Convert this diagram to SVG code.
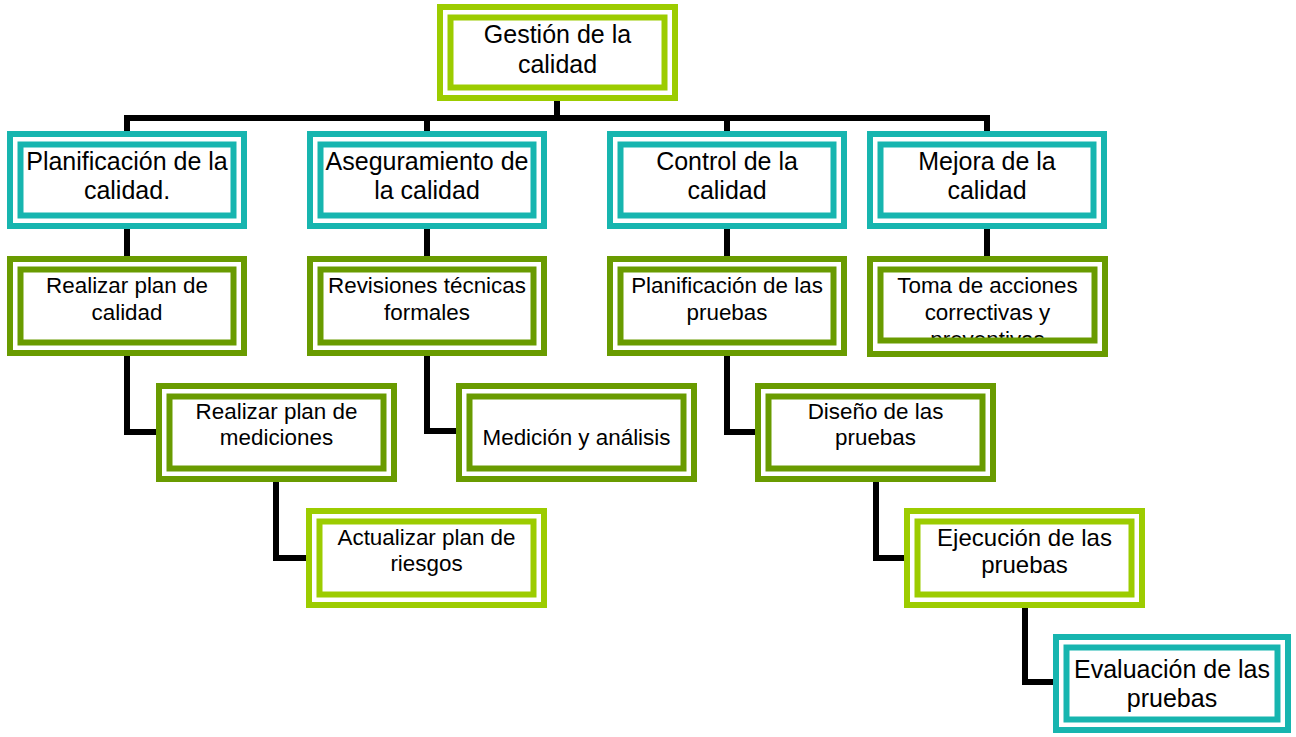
<svg xmlns="http://www.w3.org/2000/svg" width="1296" height="737" viewBox="0 0 1296 737">
<style>
.o{fill:#fff;stroke-width:6}
.i{fill:none;stroke-width:6}
.lg{stroke:#9CCC00}
.tl{stroke:#17B5AF}
.dg{stroke:#699B00}
.c{fill:none;stroke:#000;stroke-width:6;stroke-linejoin:miter}
text{font-family:"Liberation Sans",Arial,sans-serif;fill:#000;text-anchor:middle}
.b{font-size:25px}
.s{font-size:22.4px}
</style>
<defs>
<clipPath id="clipToma"><rect x="867" y="256" width="241" height="83"/></clipPath>
</defs>
<g id="connectors">
<path class="c" d="M557,101 V118"/>
<path class="c" d="M127,131 V118 H987 V131"/>
<path class="c" d="M427,118 V131"/>
<path class="c" d="M727,118 V131"/>
<path class="c" d="M127,229 V256"/>
<path class="c" d="M427,229 V256"/>
<path class="c" d="M727,229 V256"/>
<path class="c" d="M987,229 V256"/>
<path class="c" d="M127,356 V432 H156"/>
<path class="c" d="M427,356 V431 H456"/>
<path class="c" d="M727,356 V432 H755"/>
<path class="c" d="M276,482 V558 H306"/>
<path class="c" d="M876,482 V558 H904"/>
<path class="c" d="M1025,608 V682 H1053"/>
</g>
<g id="n-gestion">
<rect class="o lg" x="440" y="7" width="235" height="91"/>
<rect class="i lg" x="450.5" y="17.5" width="214" height="70"/>
<text class="b" x="557.5" y="43">Gestión de la</text>
<text class="b" x="557.5" y="73">calidad</text>
</g>
<g id="n-planificacion">
<rect class="o tl" x="10" y="134" width="234" height="92"/>
<rect class="i tl" x="20.5" y="144.5" width="213" height="71"/>
<text class="b" x="127" y="170">Planificación de la</text>
<text class="b" x="127" y="199">calidad.</text>
</g>
<g id="n-aseguramiento">
<rect class="o tl" x="310" y="134" width="234" height="92"/>
<rect class="i tl" x="320.5" y="144.5" width="213" height="71"/>
<text class="b" x="427" y="170">Aseguramiento de</text>
<text class="b" x="427" y="199">la calidad</text>
</g>
<g id="n-control">
<rect class="o tl" x="610" y="134" width="234" height="92"/>
<rect class="i tl" x="620.5" y="144.5" width="213" height="71"/>
<text class="b" x="727" y="170">Control de la</text>
<text class="b" x="727" y="199">calidad</text>
</g>
<g id="n-mejora">
<rect class="o tl" x="870" y="134" width="234" height="92"/>
<rect class="i tl" x="880.5" y="144.5" width="213" height="71"/>
<text class="b" x="987" y="170">Mejora de la</text>
<text class="b" x="987" y="199">calidad</text>
</g>
<g id="n-plan-calidad">
<rect class="o dg" x="10" y="259" width="234" height="94"/>
<rect class="i dg" x="20.5" y="269.5" width="213" height="73"/>
<text class="s" x="127" y="293">Realizar plan de</text>
<text class="s" x="127" y="320">calidad</text>
</g>
<g id="n-revisiones">
<rect class="o dg" x="310" y="259" width="234" height="94"/>
<rect class="i dg" x="320.5" y="269.5" width="213" height="73"/>
<text class="s" x="427" y="293">Revisiones técnicas</text>
<text class="s" x="427" y="320">formales</text>
</g>
<g id="n-plan-pruebas">
<rect class="o dg" x="610" y="259" width="234" height="94"/>
<rect class="i dg" x="620.5" y="269.5" width="213" height="73"/>
<text class="s" x="727" y="293">Planificación de las</text>
<text class="s" x="727" y="320">pruebas</text>
</g>
<g id="n-toma">
<rect class="o dg" x="870" y="259" width="235" height="95"/>
<g clip-path="url(#clipToma)">
<text class="s" x="987.5" y="293">Toma de acciones</text>
<text class="s" x="987.5" y="320">correctivas y</text>
<text class="s" x="987.5" y="347">preventivas</text>
</g>
<rect class="i dg" x="880.5" y="269.5" width="214" height="71"/>
</g>
<g id="n-mediciones">
<rect class="o dg" x="159" y="386" width="235" height="93"/>
<rect class="i dg" x="169.5" y="396.5" width="214" height="72"/>
<text class="s" x="276.5" y="419">Realizar plan de</text>
<text class="s" x="276.5" y="445">mediciones</text>
</g>
<g id="n-medicion">
<rect class="o dg" x="459" y="386" width="235" height="93"/>
<rect class="i dg" x="469.5" y="396.5" width="214" height="72"/>
<text class="s" x="576.5" y="445">Medición y análisis</text>
</g>
<g id="n-diseno">
<rect class="o dg" x="758" y="386" width="235" height="93"/>
<rect class="i dg" x="768.5" y="396.5" width="214" height="72"/>
<text class="s" x="875.5" y="419">Diseño de las</text>
<text class="s" x="875.5" y="445">pruebas</text>
</g>
<g id="n-riesgos">
<rect class="o lg" x="309" y="511" width="235" height="94"/>
<rect class="i lg" x="319.5" y="521.5" width="214" height="73"/>
<text class="s" x="426.5" y="545">Actualizar plan de</text>
<text class="s" x="426.5" y="571">riesgos</text>
</g>
<g id="n-ejecucion">
<rect class="o lg" x="907" y="511" width="235" height="94"/>
<rect class="i lg" x="917.5" y="521.5" width="214" height="73"/>
<text x="1024.5" y="546" style="font-size:24px">Ejecución de las</text>
<text x="1024.5" y="573" style="font-size:24px">pruebas</text>
</g>
<g id="n-evaluacion">
<rect class="o tl" x="1056" y="637" width="232" height="93"/>
<rect class="i tl" x="1066.5" y="647.5" width="211" height="72"/>
<text class="b" x="1172" y="678">Evaluación de las</text>
<text class="b" x="1172" y="707">pruebas</text>
</g>
</svg>
